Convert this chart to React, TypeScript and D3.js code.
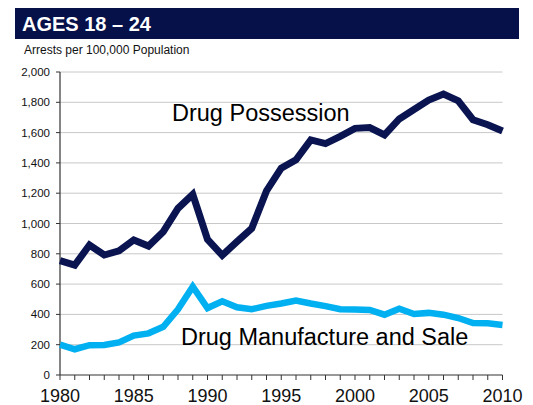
import React, { useEffect, useRef } from 'react';
import * as d3 from 'd3';

const years = d3.range(1980, 2011);

const possession = [
  755, 725, 858, 792, 820, 891, 851, 946, 1100, 1192,
  895, 790, 880, 968, 1215, 1365, 1420, 1552, 1527, 1575,
  1628, 1633, 1585, 1690, 1752, 1815, 1855, 1810, 1685, 1652,
  1610,
];

const manufacture = [
  200, 170, 197, 198, 215, 260, 275, 318, 434, 583,
  442, 487, 447, 434, 456, 472, 492, 472, 455, 434,
  433, 429, 398, 438, 403, 410, 398, 376, 343, 341,
  330,
];

const yTicks = [0, 200, 400, 600, 800, 1000, 1200, 1400, 1600, 1800, 2000];
const xLabels = [1980, 1985, 1990, 1995, 2000, 2005, 2010];

const title = 'AGES 18 – 24';
const subtitle = 'Arrests per 100,000 Population';

const App: React.FC = () => {
  const svgRef = useRef<SVGSVGElement>(null);

  useEffect(() => {
    if (!svgRef.current) return;
    const svg = d3.select(svgRef.current);
    svg.selectAll('*').remove();
    const font = 'Liberation Sans, Arial, sans-serif';

    const x = d3.scaleLinear().domain([1980, 2010]).range([60, 502.5]);
    const y = d3.scaleLinear().domain([0, 2000]).range([375, 72]);

    // header
    svg.append('rect')
      .attr('x', 15).attr('y', 8).attr('width', 504).attr('height', 31)
      .attr('fill', '#06114a');
    svg.append('text')
      .attr('x', 22).attr('y', 31)
      .attr('font-family', font).attr('font-weight', 'bold').attr('font-size', 20)
      .attr('fill', 'white')
      .text(title);
    svg.append('text')
      .attr('x', 24).attr('y', 54)
      .attr('font-family', font).attr('font-size', 12)
      .attr('fill', '#111')
      .text(subtitle);

    // grid
    svg.append('g')
      .selectAll('line')
      .data(yTicks.filter((d) => d > 0))
      .enter()
      .append('line')
      .attr('x1', x(1980)).attr('x2', x(2010))
      .attr('y1', (d) => y(d)).attr('y2', (d) => y(d))
      .attr('stroke', '#c8c8c8').attr('stroke-width', 1);

    // y ticks + labels
    svg.append('g')
      .selectAll('line')
      .data(yTicks)
      .enter()
      .append('line')
      .attr('x1', x(1980) - 4).attr('x2', x(1980))
      .attr('y1', (d) => y(d)).attr('y2', (d) => y(d))
      .attr('stroke', '#333').attr('stroke-width', 1);

    svg.append('g')
      .selectAll('text')
      .data(yTicks)
      .enter()
      .append('text')
      .attr('x', 50)
      .attr('y', (d) => y(d) + 4)
      .attr('text-anchor', 'end')
      .attr('font-family', font).attr('font-size', 11.5)
      .attr('fill', '#111')
      .text((d) => d3.format(',')(d));

    // axes
    svg.append('line')
      .attr('x1', x(1980)).attr('x2', x(1980))
      .attr('y1', y(2000)).attr('y2', y(0))
      .attr('stroke', '#333').attr('stroke-width', 1.2);
    svg.append('line')
      .attr('x1', x(1980)).attr('x2', x(2010))
      .attr('y1', y(0)).attr('y2', y(0))
      .attr('stroke', '#333').attr('stroke-width', 1.2);

    svg.append('g')
      .selectAll('line')
      .data(years)
      .enter()
      .append('line')
      .attr('x1', (d) => x(d)).attr('x2', (d) => x(d))
      .attr('y1', y(0)).attr('y2', y(0) + 5)
      .attr('stroke', '#333').attr('stroke-width', 1);

    svg.append('g')
      .selectAll('text')
      .data(xLabels)
      .enter()
      .append('text')
      .attr('x', (d) => x(d))
      .attr('y', 402)
      .attr('text-anchor', 'middle')
      .attr('font-family', font).attr('font-size', 18)
      .attr('fill', '#111')
      .text((d) => d);

    const line = d3.line<number>()
      .x((_, i) => x(years[i]))
      .y((d) => y(d));

    svg.append('path')
      .datum(manufacture)
      .attr('d', line)
      .attr('fill', 'none')
      .attr('stroke', '#00b0f0')
      .attr('stroke-width', 6.5);

    svg.append('path')
      .datum(possession)
      .attr('d', line)
      .attr('fill', 'none')
      .attr('stroke', '#0a1450')
      .attr('stroke-width', 7);

    svg.append('text')
      .attr('x', 172).attr('y', 121)
      .attr('font-family', font).attr('font-size', 23.5)
      .attr('fill', '#000')
      .text('Drug Possession');
    svg.append('text')
      .attr('x', 181).attr('y', 345)
      .attr('font-family', font).attr('font-size', 23.5)
      .attr('fill', '#000')
      .text('Drug Manufacture and Sale');
  }, []);

  return (
    <svg
      ref={svgRef}
      width="533"
      height="405"
      style={{ position: 'absolute', left: 0, top: 0, background: 'white' }}
    />
  );
};

export default App;
